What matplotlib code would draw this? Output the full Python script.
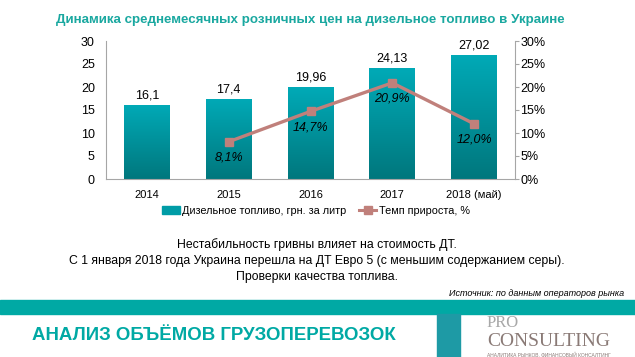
import matplotlib
matplotlib.use("Agg")
import matplotlib.pyplot as plt
import numpy as np
from matplotlib.patches import Rectangle
from matplotlib.lines import Line2D
from matplotlib.colors import LinearSegmentedColormap
from matplotlib import font_manager

categories = ["2014", "2015", "2016", "2017", "2018 (май)"]
prices = [16.1, 17.4, 19.96, 24.13, 27.02]
price_labels = ["16,1", "17,4", "19,96", "24,13", "27,02"]
growth = [None, 8.1, 14.7, 20.9, 12.0]
growth_labels = ["", "8,1%", "14,7%", "20,9%", "12,0%"]
left_ticks = [0, 5, 10, 15, 20, 25, 30]
right_ticks = [0, 5, 10, 15, 20, 25, 30]

plt.rcParams['font.family'] = ['Liberation Sans', 'DejaVu Sans']
names = {f.name for f in font_manager.fontManager.ttflist}
narrow = 'Liberation Sans Narrow' if 'Liberation Sans Narrow' in names else 'Liberation Sans'

W, H = 635, 357
fig = plt.figure(figsize=(W/100, H/100), dpi=100)

def fx(px): return px / W
def fy(py): return 1 - py / H

ax_l, ax_r, ax_t, ax_b = 106, 515, 41, 179
ax = fig.add_axes([fx(ax_l), fy(ax_b), (ax_r-ax_l)/W, (ax_b-ax_t)/H])
x = np.arange(len(categories))
bw = 0.56
bars = ax.bar(x, prices, width=bw, color='none', edgecolor='none', zorder=2)
grad = np.linspace(0, 1, 256).reshape(-1, 1)
cmap = LinearSegmentedColormap.from_list('g', ['#00777D', '#00AAB7'])
for b in bars:
    im = ax.imshow(grad, cmap=cmap, aspect='auto', origin='lower',
                   extent=[b.get_x(), b.get_x()+b.get_width(), 0, b.get_height()], zorder=2)
    im.set_clip_path(b)
for xi, v, lab in zip(x, prices, price_labels):
    ax.text(xi, v + 0.8, lab, ha='center', va='bottom', fontsize=9, color='black')
ax.set_xlim(-0.5, 4.5)
ax.set_ylim(0, 30)
ax.set_yticks(left_ticks)
ax.set_xticks(x)
ax.set_xticklabels(categories, fontsize=8)
ax.tick_params(axis='y', labelsize=9, length=0, pad=8)
ax.tick_params(axis='x', length=0, pad=8)
for s in ['top', 'right']:
    ax.spines[s].set_visible(False)
ax.spines['left'].set_color('#A6A6A6')
ax.spines['bottom'].set_color('#A6A6A6')

ax2 = ax.twinx()
gx = [xi for xi, g in zip(x, growth) if g is not None]
gy = [g for g in growth if g is not None]
line_color = '#C0807B'
ax2.plot(gx, gy, color=line_color, lw=2.4, marker='s', ms=6, zorder=3)
for xi, g, lab in zip(x, growth, growth_labels):
    if g is not None:
        ax2.text(xi, g - 2.2, lab, ha='center', va='top', fontsize=9, style='italic', color='black')
ax2.set_ylim(0, 30)
ax2.set_yticks(right_ticks)
ax2.set_yticklabels([f"{t}%" for t in right_ticks], fontsize=9)
ax2.tick_params(axis='y', length=3, color='#A6A6A6', pad=1)
for s in ['top', 'left', 'bottom']:
    ax2.spines[s].set_visible(False)
ax2.spines['right'].set_color('#A6A6A6')

# legend
handles = [Rectangle((0, 0), 1, 1, color='#009CA6'),
           Line2D([0], [0], color=line_color, lw=2.2, marker='s', ms=6)]
fig.legend(handles, ["Дизельное топливо, грн. за литр", "Темп прироста, %"],
           loc='center', bbox_to_anchor=(fx(316), fy(211)), ncol=2, frameon=False,
           fontsize=7.8, handlelength=1.6, handletextpad=0.2, columnspacing=1.2)

teal = '#00A9A4'
fig.text(fx(310), fy(20), "Динамика среднемесячных розничных цен на дизельное топливо в Украине",
         ha='center', va='center', fontsize=10.5 if narrow != 'Liberation Sans' else 9.6,
         fontweight='bold', color='#1AA8A0', family=[narrow, 'DejaVu Sans'])

lines = ["Нестабильность гривны влияет на стоимость ДТ.",
         "С 1 января 2018 года Украина перешла на ДТ Евро 5 (с меньшим содержанием серы).",
         "Проверки качества топлива."]
for i, t in enumerate(lines):
    fig.text(fx(317), fy(245 + i*16), t, ha='center', va='center', fontsize=8.8, color='black')
fig.text(fx(624), fy(294), "Источник: по данным операторов рынка", ha='right', va='center',
         fontsize=6.5, style='italic', color='black')

fig.patches.append(Rectangle((0, fy(314)), 1, (314-300)/H, transform=fig.transFigure,
                             color=teal, zorder=0))
fig.text(fx(32), fy(336), "АНАЛИЗ ОБЪЁМОВ ГРУЗОПЕРЕВОЗОК", ha='left', va='center',
         fontsize=14.5 if narrow != 'Liberation Sans' else 13.4, fontweight='bold', color=teal,
         family=[narrow, 'DejaVu Sans'])

# logo
fig.patches.append(Rectangle((fx(437), 0), (460-437)/W, (357-314)/H, transform=fig.transFigure,
                             color='#1E9AA5', zorder=0))
fig.text(fx(487), fy(323), "PRO", ha='left', va='center', fontsize=12, color='#A8A8A8',
         family='Liberation Serif')
fig.text(fx(487), fy(341), "CONSULTING", ha='left', va='center', fontsize=14, color='#8A7A76',
         family='Liberation Serif')
fig.text(fx(487), fy(354), "АНАЛИТИКА РЫНКОВ, ФИНАНСОВЫЙ КОНСАЛТИНГ", ha='left', va='center',
         fontsize=3.5, color='#8A7A76')

fig.savefig("out.png", dpi=100)
